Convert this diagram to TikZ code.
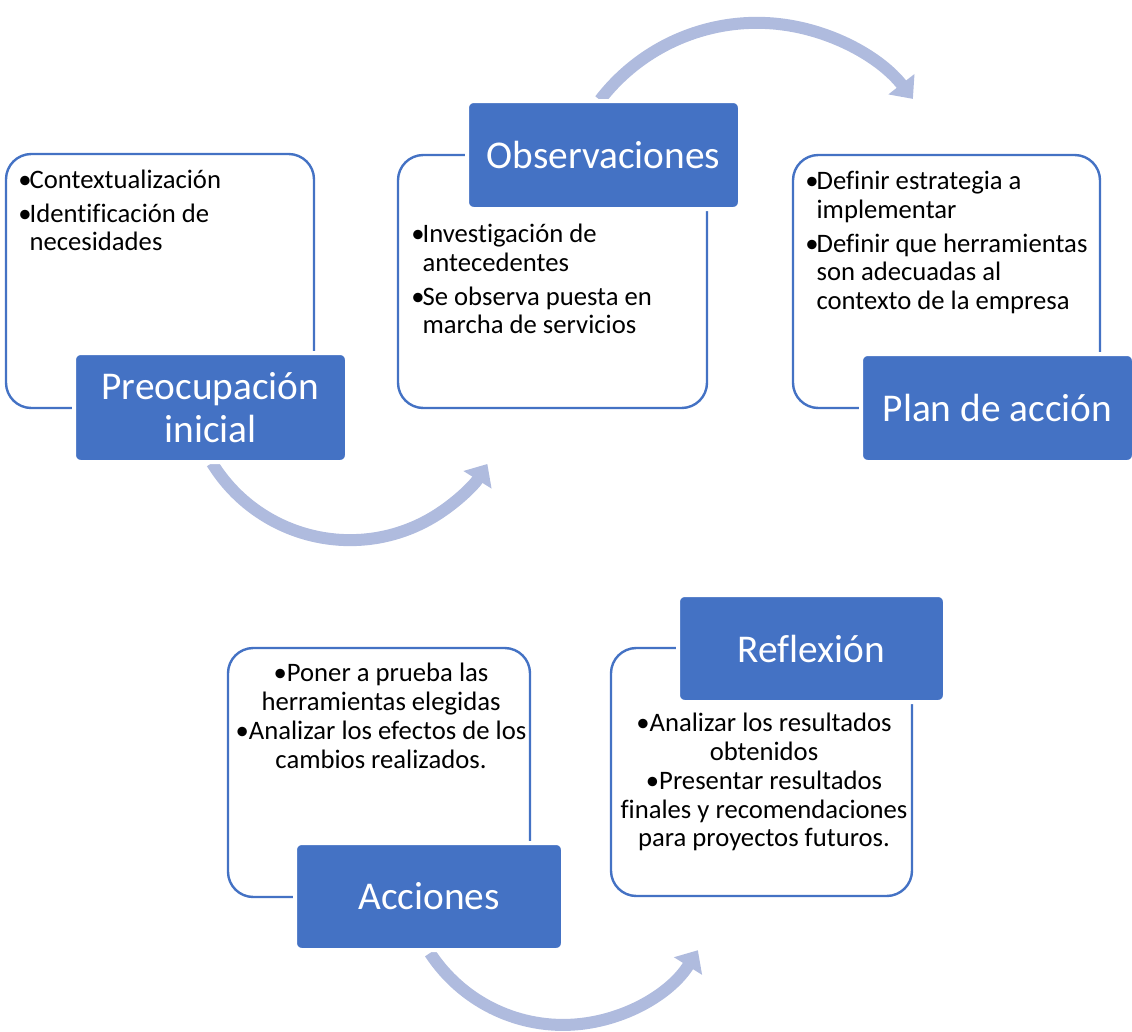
\documentclass[tikz,border=0pt]{standalone}
\usepackage{fontspec}
\setmainfont{Carlito}[Ligatures=CommonOff]
\usetikzlibrary{arrows.meta}
\definecolor{accentblue}{RGB}{68,114,196}
\definecolor{arrowblue}{RGB}{175,187,222}
\newcommand{\itm}{\makebox[8.5pt][l]{•}}
\newcommand{\hang}{\hspace*{8.5pt}}
\tikzset{
    % Outline frame style
    outerbox/.style 2 args={
        rectangle, draw=accentblue, line width=1.8pt, fill=white,
        minimum width=#1*0.75pt, minimum height=#2*0.75pt,
        rounded corners=19pt
    },
    % Heading box style
    headbox/.style 2 args={
        rectangle, draw=white, line width=3pt, fill=accentblue,
        minimum width=#1*0.75pt+3pt, minimum height=#2*0.75pt+3pt,
        rounded corners=5pt, text=white, align=center,
        font=\fontsize{29.5}{32}\selectfont
    },
    % Item text style
    itemtext/.style={
        inner sep=0pt, font=\fontsize{20}{21.3}\selectfont
    },
    % Cycle arrow style
    cyclearrow/.style={
        arrowblue, line width=9pt, -{Triangle[width=24pt,length=14pt]}
    }
}
\begin{document}
\begin{tikzpicture}[x=0.75pt, y=-0.75pt]
\useasboundingbox (0,0) rectangle (1132,1032);

% Cycle arrows
\coordinate (arcstartA) at (212,463);
\coordinate (arcstartB) at (600,100);
\coordinate (arcstartC) at (430,953);
\draw[cyclearrow] (arcstartA) arc[start angle=148.4, end angle=32, radius=162];
\draw[cyclearrow] (arcstartB) arc[start angle=-142.4, end angle=-38, radius=198];
\draw[cyclearrow] (arcstartC) arc[start angle=146.8, end angle=32, radius=159];

% Outline frames
\node[outerbox={308}{254}] (frame1) at (160,281) {};
\node[outerbox={309}{253}] (frame2) at (552.5,281.5) {};
\node[outerbox={307}{253}] (frame3) at (946.5,281.5) {};
\node[outerbox={302}{249}] (frame4) at (379,772.5) {};
\node[outerbox={301}{248}] (frame5) at (761.5,772) {};

% Heading boxes
\node[headbox={269}{105}] (head1) at (210.5,407.5) {Preocupación\\inicial};
\node[headbox={269}{104}] (head2) at (603.5,155) {Observaciones};
\node[headbox={269}{104}] (head3) at (997.5,408) {Plan de acción};
\node[headbox={264}{103}] (head4) at (429,896.5) {Acciones};
\node[headbox={263}{103}] (head5) at (811.5,648.5) {Reflexión};

% Item texts
\node[itemtext, anchor=north west, align=left] (text1) at (18,170)
    {\itm Contextualización\\[4pt] \itm Identificación de\\ \hang necesidades};
\node[itemtext, anchor=north west, align=left] (text2) at (411,224)
    {\itm Investigación de\\ \hang antecedentes\\[4.5pt] \itm Se observa puesta en\\ \hang marcha de servicios};
\node[itemtext, anchor=north west, align=left] (text3) at (805,171)
    {\itm Definir estrategia a\\ \hang implementar\\[4.5pt] \itm Definir que herramientas\\ \hang son adecuadas al\\ \hang contexto de la empresa};
\node[itemtext, anchor=north, align=center] (text4) at (381,663)
    {•Poner a prueba las\\ herramientas elegidas\\[1pt] •Analizar los efectos de los\\ cambios realizados.};
\node[itemtext, anchor=north, align=center] (text5) at (764,713)
    {•Analizar los resultados\\ obtenidos\\[1pt] •Presentar resultados\\ finales y recomendaciones\\ para proyectos futuros.};

\end{tikzpicture}
\end{document}
